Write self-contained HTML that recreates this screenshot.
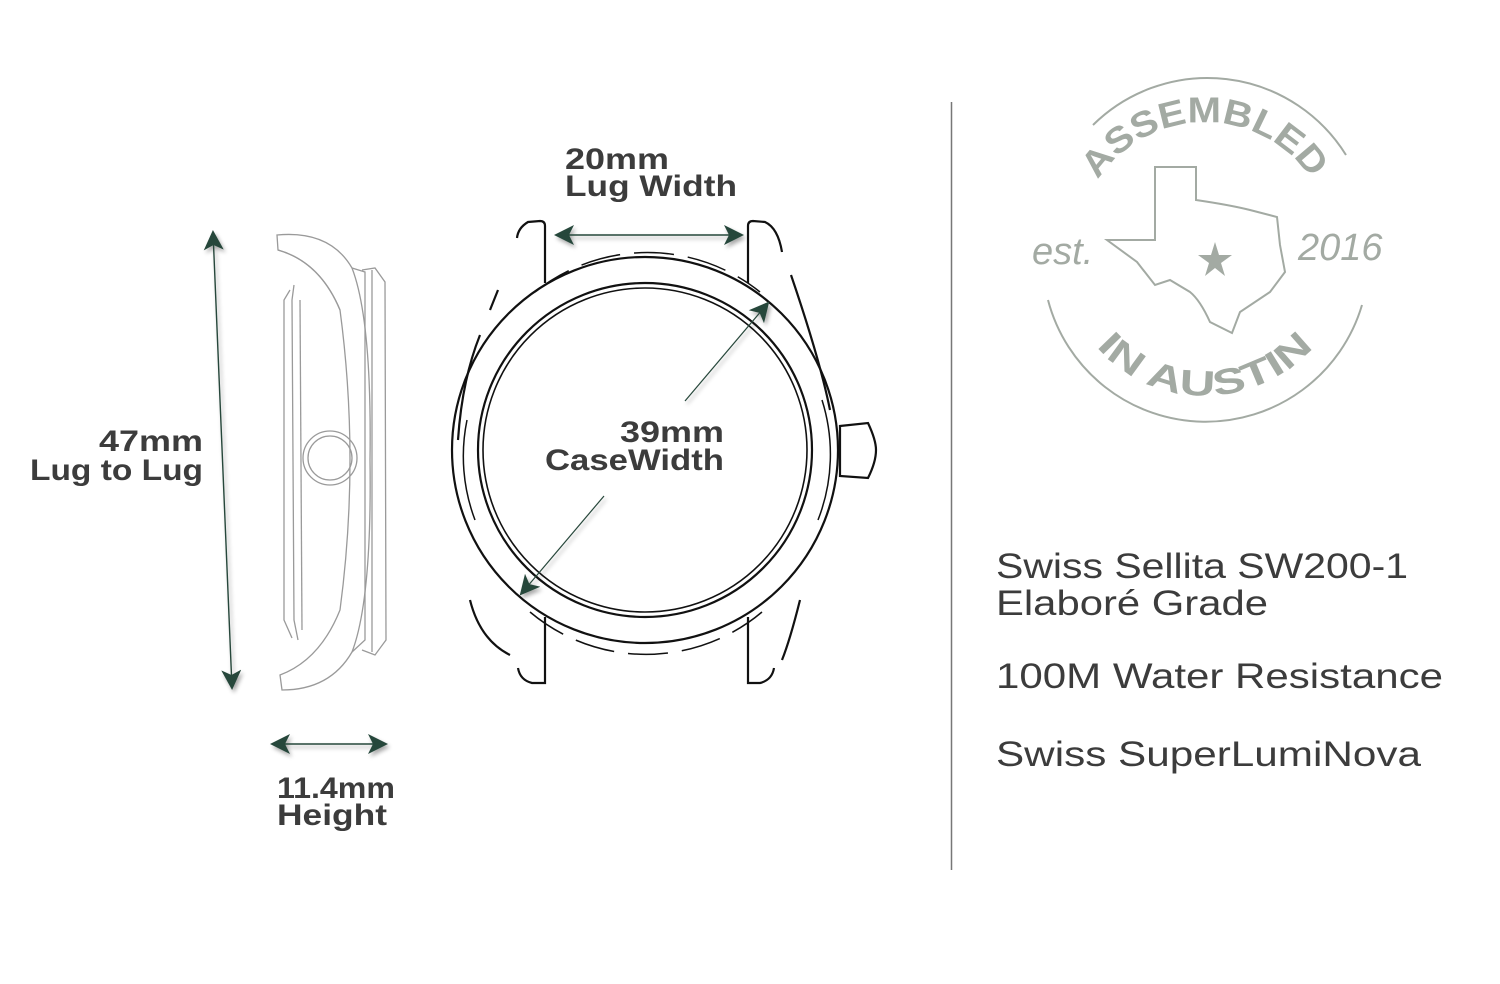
<!DOCTYPE html>
<html><head><meta charset="utf-8"><style>
html,body{margin:0;padding:0;background:#fff;}
svg{display:block}
text{font-family:"Liberation Sans",sans-serif;}
</style></head><body>
<svg width="1500" height="984" viewBox="0 0 1500 984" xmlns="http://www.w3.org/2000/svg">
<defs>
<marker id="ah" viewBox="0 0 20 20" refX="18" refY="10" markerWidth="20" markerHeight="20" markerUnits="userSpaceOnUse" orient="auto-start-reverse">
<path d="M0,0 L20,10 L0,20 L5,10 Z" fill="#27473a"/>
</marker>
<filter id="sh" x="-20%" y="-20%" width="140%" height="140%"><feGaussianBlur in="SourceAlpha" stdDeviation="2"/><feOffset dx="2" dy="3"/><feComponentTransfer><feFuncA type="linear" slope="0.35"/></feComponentTransfer><feMerge><feMergeNode/><feMergeNode in="SourceGraphic"/></feMerge></filter>
<path id="topArc" d="M1098,180 A128,128 0 0 1 1312,180"/>
<path id="botArc" d="M1083,329 A145,145 0 0 0 1327,329"/>
</defs>

<line x1="951.5" y1="102" x2="951.5" y2="870" stroke="#777" stroke-width="1.5"/>

<g fill="none" stroke="#9a9a9a" stroke-width="1.3">
<path d="M277,235 Q330,230 352,268 Q372,320 370,460 Q372,600 352,652 Q330,690 282,690 L280,675 Q320,660 340,610 Q360,460 340,310 Q320,262 278,250 Z"/>
<path d="M278,250 Q320,262 340,310"/>
<path d="M352,268 L365,272 L365,640 L352,652"/>
<path d="M362,270 L375,268 L385,282 L386,640 L375,655 L362,650"/>
<path d="M372,270 L372,652"/>
<path d="M290,290 L284,300 L284,620 L292,638"/>
<path d="M294,285 L292,300 L294,620 L298,640"/>
<path d="M300,300 L302,630"/>
<circle cx="330" cy="458" r="27"/>
<circle cx="330" cy="458" r="22"/>
</g>

<g fill="none" stroke="#111" stroke-width="2.2">
<circle cx="645" cy="450" r="193"/>
<circle cx="645" cy="450" r="167"/>
<circle cx="645" cy="450" r="162" stroke-width="1.6"/>
<path d="M535,292 A180,180 0 0 1 760,292" stroke-width="1.5" stroke-dasharray="40 14"/>
<path d="M530,612 A180,180 0 0 0 762,612" stroke-width="1.5" stroke-dasharray="40 14"/>
<path d="M467,420 A180,180 0 0 0 475,520" stroke-width="1.5"/>
<path d="M822,400 A180,180 0 0 1 818,520" stroke-width="1.5"/>
<path d="M545,283 L545,226 Q545,221 540,221 L528,222 Q518,228 517,238"/>
<path d="M748,283 L748,226 Q748,221 753,221 L765,222 Q778,228 782,252"/>
<path d="M545,617 L545,683 L532,683 Q520,680 518,668"/>
<path d="M748,617 L748,683 L760,683 Q772,680 774,668"/>
<path d="M498,290 L490,310 M480,335 Q462,380 458,440 M470,600 Q480,640 510,655"/>
<path d="M791,275 Q820,360 830,410 M800,600 Q790,640 782,660"/>
<path d="M840,426 L868,423 Q876,440 876,450 Q876,462 868,478 L840,476 Z"/>
</g>

<g stroke="#27473a" stroke-width="1.4" fill="none" marker-start="url(#ah)" marker-end="url(#ah)" filter="url(#sh)">
<line x1="213" y1="232" x2="232" y2="688"/>
<line x1="556" y1="235" x2="742" y2="235"/>
<line x1="272" y1="744" x2="386" y2="744"/>
</g>
<g stroke="#27473a" stroke-width="1.2" fill="none" filter="url(#sh)">
<line x1="685" y1="401" x2="768" y2="303" marker-end="url(#ah)"/>
<line x1="604" y1="496" x2="521" y2="594" marker-end="url(#ah)"/>
</g>

<g fill="#3c3c3c" font-size="30" font-weight="bold">
<text x="565" y="169" textLength="104" lengthAdjust="spacingAndGlyphs">20mm</text>
<text x="565" y="196" textLength="172" lengthAdjust="spacingAndGlyphs">Lug Width</text>
<text x="99" y="451" textLength="104" lengthAdjust="spacingAndGlyphs">47mm</text>
<text x="30" y="480" textLength="173" lengthAdjust="spacingAndGlyphs">Lug to Lug</text>
<text x="620" y="442" textLength="104" lengthAdjust="spacingAndGlyphs">39mm</text>
<text x="545" y="470" textLength="179" lengthAdjust="spacingAndGlyphs">CaseWidth</text>
<text x="277" y="798" textLength="118" lengthAdjust="spacingAndGlyphs">11.4mm</text>
<text x="277" y="825" textLength="110" lengthAdjust="spacingAndGlyphs">Height</text>
</g>
<g fill="#3c3c3c" font-size="35">
<text x="996" y="578" textLength="412" lengthAdjust="spacingAndGlyphs">Swiss Sellita SW200-1</text>
<text x="996" y="615" textLength="272" lengthAdjust="spacingAndGlyphs">Elaboré Grade</text>
<text x="996" y="688" textLength="447" lengthAdjust="spacingAndGlyphs">100M Water Resistance</text>
<text x="996" y="766" textLength="425" lengthAdjust="spacingAndGlyphs">Swiss SuperLumiNova</text>
</g>

<g stroke="#a3aaa3" fill="none" stroke-width="2">
<path d="M1093,125 A163,163 0 0 1 1346,155"/>
<path d="M1048,300 A163,163 0 0 0 1362,305"/>
<path d="M1155,167 L1196,167 L1196,200 Q1230,205 1250,210 L1277,217 L1280,245 L1285,272 L1270,292 L1240,312 L1232,333 L1210,322 Q1200,300 1190,292 L1170,280 L1155,285 L1137,262 L1107,240 L1155,240 Z"/>
</g>
<polygon points="1215,242 1219,255 1232,255 1221,263 1225,276 1215,268 1205,276 1209,263 1198,255 1211,255" fill="#a3aaa3"/>
<g fill="#a3aaa3" font-weight="bold" font-size="36">
<text><textPath href="#topArc" textLength="252" lengthAdjust="spacingAndGlyphs">ASSEMBLED</textPath></text>
<text><textPath href="#botArc" startOffset="22" textLength="245" lengthAdjust="spacingAndGlyphs">IN AUSTIN</textPath></text>
</g>
<g fill="#a3aaa3" font-family="Liberation Serif" font-style="italic" font-size="38">
<text x="1032" y="264">est.</text>
<text x="1298" y="260">2016</text>
</g>
</svg>
</body></html>
